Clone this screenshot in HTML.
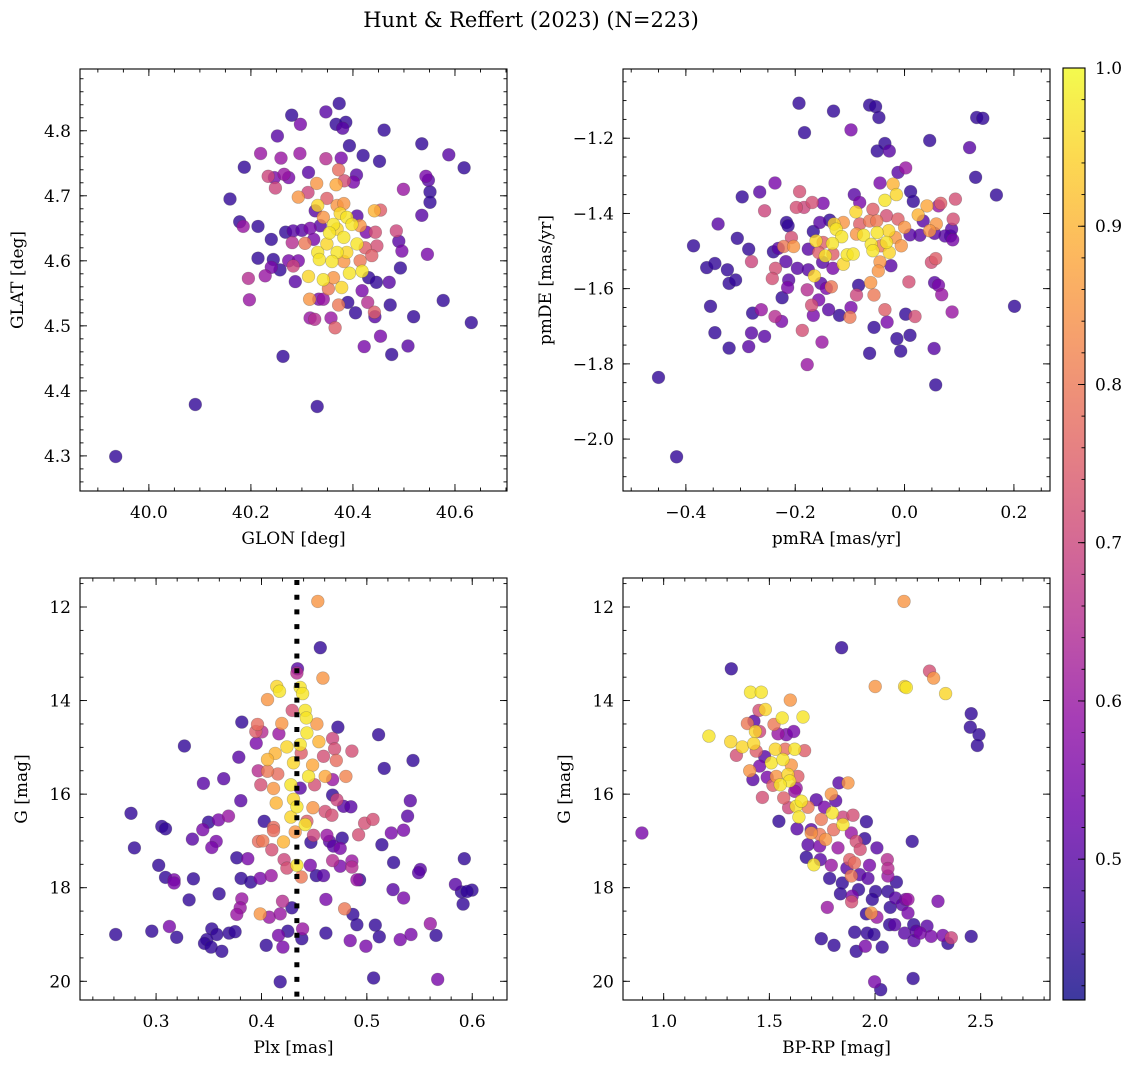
<!DOCTYPE html>
<html><head><meta charset="utf-8"><style>
body{margin:0;background:#fff;}
svg text{font-family:"DejaVu Serif","Liberation Serif",serif;fill:#000;}
</style></head><body>
<svg id="fig" width="1136" height="1068" xmlns="http://www.w3.org/2000/svg">
<text x="531" y="27" font-size="21" text-anchor="middle">Hunt &amp; Reffert (2023) (N=223)</text>
</svg>
<script>
// ---------- data ----------
const glon=[39.935,40.091,40.330,40.263,40.373,40.280,40.347,40.297,40.367,40.386,40.380,40.461,40.252,40.393,40.535,40.219,40.259,40.296,40.347,40.377,40.420,40.452,40.588,40.618,40.187,40.234,40.246,40.265,40.274,40.248,40.313,40.329,40.372,40.367,40.383,40.407,40.401,40.543,40.548,40.499,40.551,40.551,40.159,40.293,40.312,40.349,40.331,40.369,40.382,40.442,40.454,40.326,40.375,40.535,40.178,40.185,40.214,40.240,40.268,40.283,40.300,40.316,40.336,40.342,40.362,40.388,40.398,40.414,40.408,40.354,40.382,40.369,40.444,40.485,40.426,40.281,40.306,40.323,40.349,40.408,40.447,40.490,40.496,40.546,40.331,40.369,40.388,40.424,40.437,40.214,40.244,40.274,40.293,40.334,40.359,40.382,40.414,40.493,40.240,40.257,40.283,40.228,40.195,40.313,40.342,40.362,40.393,40.418,40.431,40.446,40.471,40.287,40.352,40.378,40.418,40.197,40.315,40.333,40.342,40.390,40.372,40.429,40.577,40.473,40.405,40.442,40.443,40.316,40.325,40.357,40.365,40.519,40.632,40.454,40.422,40.508,40.476];
const glat=[4.299,4.379,4.376,4.453,4.842,4.824,4.829,4.810,4.810,4.813,4.804,4.801,4.792,4.777,4.780,4.765,4.758,4.765,4.757,4.758,4.762,4.753,4.763,4.743,4.744,4.730,4.728,4.733,4.728,4.712,4.736,4.719,4.740,4.717,4.723,4.732,4.721,4.730,4.724,4.710,4.706,4.690,4.695,4.698,4.705,4.696,4.685,4.685,4.688,4.677,4.678,4.677,4.673,4.670,4.660,4.653,4.653,4.633,4.644,4.646,4.647,4.650,4.654,4.667,4.656,4.667,4.656,4.654,4.669,4.643,4.636,4.649,4.644,4.646,4.644,4.628,4.627,4.633,4.626,4.626,4.623,4.630,4.615,4.610,4.613,4.613,4.613,4.620,4.608,4.604,4.602,4.600,4.600,4.602,4.599,4.599,4.600,4.589,4.590,4.586,4.592,4.577,4.573,4.576,4.571,4.574,4.581,4.584,4.574,4.567,4.567,4.568,4.557,4.559,4.554,4.540,4.541,4.541,4.541,4.536,4.532,4.536,4.539,4.532,4.520,4.521,4.514,4.512,4.510,4.512,4.497,4.514,4.505,4.484,4.468,4.469,4.456];
const prob1=[.45,.45,.45,.45,.45,.45,.5,.55,.45,.45,.5,.45,.5,.45,.45,.6,.6,.6,.65,.55,.45,.45,.5,.45,.45,.7,.55,.6,.55,.7,.5,.85,.78,.88,.72,.5,.55,.55,.5,.6,.45,.45,.45,.85,.7,.75,.95,.85,.85,.9,.75,.5,.95,.5,.45,.6,.45,.45,.45,.5,.5,.55,.5,.85,.97,.97,.97,.85,.5,.97,.97,.95,.72,.7,.55,.65,.8,.55,.95,.97,.72,.5,.55,.55,.97,.97,.95,.75,.75,.45,.45,.55,.55,.97,.97,.85,.8,.45,.55,.45,.7,.6,.65,.95,.97,.85,.97,.97,.45,.45,.5,.5,.8,.95,.55,.6,.85,.55,.6,.45,.8,.65,.45,.45,.45,.75,.5,.6,.65,.6,.75,.45,.45,.55,.55,.5,.45];

const pmra=[-0.450,-0.417,-0.193,-0.130,-0.064,-0.053,-0.047,-0.183,-0.098,-0.036,-0.050,-0.028,0.046,0.119,0.132,0.143,0.130,0.168,-0.012,0.002,-0.045,-0.021,-0.015,-0.036,0.011,0.016,-0.297,-0.265,-0.237,-0.256,-0.192,-0.198,-0.184,-0.169,-0.149,-0.092,-0.082,-0.089,-0.058,0.041,0.066,0.093,0.062,0.025,0.034,0.089,-0.216,-0.213,-0.155,-0.137,-0.129,-0.112,-0.125,-0.082,-0.064,-0.051,-0.033,-0.012,0.000,0.058,0.086,0.084,0.074,0.055,0.046,0.028,0.010,0.088,-0.088,-0.075,-0.050,-0.029,-0.017,-0.006,-0.033,-0.061,-0.115,-0.132,-0.162,-0.167,-0.149,-0.207,-0.221,-0.203,-0.306,-0.386,-0.341,-0.285,-0.240,-0.231,-0.176,-0.157,-0.145,-0.131,-0.105,-0.094,-0.058,-0.043,-0.028,-0.150,-0.112,-0.045,-0.217,-0.280,-0.362,-0.347,-0.324,-0.236,-0.196,-0.176,-0.131,-0.048,-0.025,0.049,0.057,-0.165,-0.242,-0.212,-0.321,-0.309,-0.214,-0.153,-0.143,-0.134,-0.062,0.008,0.055,0.062,-0.224,-0.178,-0.084,-0.088,-0.056,0.068,-0.355,-0.157,-0.170,-0.139,-0.098,0.201,-0.278,-0.262,-0.237,-0.225,-0.167,-0.119,-0.100,-0.036,0.002,0.019,0.087,-0.056,-0.032,-0.187,-0.347,-0.280,-0.256,-0.321,-0.285,-0.151,-0.014,0.010,-0.007,-0.064,0.054,-0.178,0.057];
const pmde=[-1.836,-2.047,-1.107,-1.128,-1.112,-1.116,-1.145,-1.185,-1.178,-1.214,-1.234,-1.234,-1.206,-1.225,-1.145,-1.147,-1.304,-1.351,-1.291,-1.279,-1.319,-1.322,-1.350,-1.365,-1.342,-1.368,-1.356,-1.343,-1.319,-1.393,-1.342,-1.384,-1.384,-1.371,-1.373,-1.350,-1.371,-1.396,-1.389,-1.380,-1.373,-1.362,-1.380,-1.404,-1.420,-1.415,-1.424,-1.433,-1.424,-1.418,-1.428,-1.424,-1.442,-1.428,-1.420,-1.420,-1.406,-1.415,-1.437,-1.428,-1.442,-1.460,-1.460,-1.453,-1.446,-1.458,-1.457,-1.470,-1.455,-1.458,-1.451,-1.446,-1.464,-1.486,-1.477,-1.482,-1.462,-1.480,-1.473,-1.448,-1.477,-1.464,-1.488,-1.488,-1.466,-1.486,-1.428,-1.495,-1.502,-1.493,-1.495,-1.504,-1.513,-1.508,-1.510,-1.508,-1.499,-1.486,-1.504,-1.530,-1.535,-1.529,-1.528,-1.528,-1.544,-1.533,-1.550,-1.546,-1.546,-1.550,-1.546,-1.553,-1.539,-1.530,-1.520,-1.566,-1.573,-1.577,-1.586,-1.577,-1.597,-1.586,-1.599,-1.595,-1.584,-1.582,-1.584,-1.591,-1.624,-1.603,-1.591,-1.617,-1.617,-1.616,-1.647,-1.630,-1.644,-1.656,-1.650,-1.647,-1.665,-1.656,-1.674,-1.687,-1.671,-1.671,-1.676,-1.656,-1.668,-1.674,-1.662,-1.703,-1.689,-1.711,-1.717,-1.718,-1.727,-1.758,-1.754,-1.742,-1.733,-1.724,-1.766,-1.772,-1.759,-1.802,-1.856];
const prob2=[.45,.45,.45,.45,.45,.45,.45,.45,.55,.45,.45,.5,.45,.5,.45,.45,.45,.45,.5,.6,.55,.9,.95,.97,.45,.45,.45,.5,.55,.7,.72,.72,.7,.72,.55,.5,.55,.95,.75,.88,.75,.72,.6,.9,.5,.72,.45,.45,.5,.45,.95,.85,.97,.75,.8,.8,.72,.75,.85,.85,.5,.45,.5,.5,.85,.5,.5,.55,.85,.97,.97,.95,.85,.85,.97,.97,.97,.97,.95,.45,.75,.72,.8,.85,.45,.45,.5,.45,.45,.5,.5,.75,.97,.75,.97,.97,.97,.8,.95,.5,.95,.85,.5,.7,.45,.45,.45,.72,.5,.5,.55,.85,.5,.72,.75,.95,.72,.5,.45,.45,.55,.5,.55,.8,.85,.72,.5,.55,.45,.65,.45,.7,.8,.6,.45,.55,.72,.5,.55,.45,.45,.6,.65,.55,.55,.45,.8,.75,.45,.72,.6,.45,.55,.72,.45,.5,.5,.45,.5,.6,.45,.45,.45,.45,.5,.6,.45];

const plx=[0.4535,0.4558,0.4342,0.4336,0.4583,0.4146,0.4171,0.4368,0.4390,0.4057,0.4292,0.4415,0.4425,0.3813,0.3962,0.4193,0.4526,0.4725,0.3946,0.4004,0.4165,0.4431,0.5112,0.4675,0.4545,0.3269,0.3950,0.4130,0.4241,0.4368,0.4694,0.4858,0.3785,0.4057,0.4377,0.4589,0.4710,0.5438,0.4304,0.4485,0.5165,0.3969,0.4057,0.4155,0.4447,0.4605,0.4675,0.4801,0.3449,0.3642,0.3994,0.4114,0.4279,0.4368,0.4504,0.3804,0.4675,0.4716,0.4779,0.4849,0.5412,0.4140,0.4304,0.4336,0.4488,0.4605,0.2762,0.3687,0.3592,0.3497,0.4026,0.4279,0.4415,0.4431,0.4668,0.4979,0.5058,0.5387,0.3054,0.3089,0.3443,0.4114,0.4114,0.4320,0.4494,0.4621,0.4922,0.5232,0.5349,0.3345,0.3570,0.3972,0.4013,0.4209,0.4469,0.4646,0.4766,0.2794,0.3529,0.4098,0.4684,0.4747,0.5143,0.3766,0.3870,0.4215,0.4336,0.4463,0.4675,0.4858,0.5254,0.5925,0.3025,0.4241,0.4747,0.4858,0.5507,0.5491,0.3089,0.3171,0.3171,0.3354,0.3807,0.3899,0.3988,0.4092,0.4377,0.4520,0.4589,0.4931,0.4906,0.5840,0.5897,0.5998,0.5951,0.5913,0.3598,0.5248,0.5349,0.3313,0.3813,0.3798,0.3766,0.4200,0.4289,0.4611,0.4789,0.3988,0.4073,0.4178,0.4868,0.4906,0.5080,0.5602,0.2617,0.2959,0.3126,0.3196,0.3529,0.3576,0.3481,0.3459,0.3522,0.3624,0.3693,0.3750,0.4162,0.4250,0.4390,0.4383,0.4611,0.4045,0.4203,0.4842,0.4991,0.5118,0.5317,0.5419,0.5656,0.4178,0.5064,0.5672,0.3560];
const gmag3=[11.88,12.87,13.32,13.41,13.52,13.70,13.80,13.72,13.85,13.98,14.21,14.21,14.37,14.46,14.51,14.49,14.50,14.57,14.66,14.67,14.71,14.69,14.73,14.81,14.88,14.97,14.91,15.13,14.99,14.94,15.03,15.08,15.21,15.26,15.12,15.19,15.28,15.28,15.33,15.38,15.45,15.50,15.51,15.57,15.62,15.62,15.69,15.62,15.77,15.67,15.80,15.88,15.80,15.87,15.80,16.14,16.02,16.12,16.26,16.27,16.14,16.19,16.11,16.27,16.29,16.37,16.41,16.47,16.55,16.60,16.58,16.49,16.65,16.58,16.45,16.62,16.54,16.47,16.69,16.74,16.76,16.71,16.78,16.81,16.88,16.88,16.87,16.83,16.77,16.96,17.01,17.01,17.00,17.02,17.03,17.01,16.94,17.15,17.14,17.19,17.11,17.16,17.08,17.36,17.38,17.40,17.52,17.52,17.42,17.43,17.46,17.38,17.52,17.58,17.54,17.56,17.61,17.68,17.78,17.83,17.90,17.81,17.80,17.88,17.80,17.74,17.77,17.74,17.74,17.83,17.83,17.93,18.09,18.05,18.08,18.35,18.13,18.04,18.22,18.26,18.24,18.43,18.57,18.29,18.43,18.25,18.45,18.56,18.63,18.56,18.57,18.79,18.80,18.77,19.00,18.93,18.83,19.06,18.88,19.00,19.11,19.19,19.27,19.36,18.97,18.94,19.02,18.93,18.88,19.09,18.97,19.23,19.27,19.13,19.25,19.05,19.11,19.00,19.02,20.01,19.93,19.96,20.16];
const prob3=[.85,.45,.5,.65,.85,.95,.97,.97,.97,.85,.72,.97,.97,.45,.78,.85,.85,.45,.75,.65,.6,.97,.45,.7,.9,.45,.55,.9,.95,.97,.72,.72,.5,.9,.75,.72,.78,.45,.95,.88,.45,.65,.8,.78,.97,.88,.6,.82,.5,.5,.72,.85,.97,.5,.72,.5,.45,.7,.5,.5,.5,.9,.95,.97,.85,.72,.45,.6,.55,.45,.45,.95,.97,.75,.72,.72,.72,.5,.45,.45,.55,.78,.78,.85,.7,.6,.72,.55,.55,.5,.55,.78,.8,.9,.45,.5,.45,.45,.55,.72,.5,.55,.45,.45,.55,.7,.97,.55,.65,.6,.45,.45,.45,.72,.55,.65,.5,.5,.45,.55,.55,.45,.45,.45,.55,.6,.8,.45,.5,.45,.6,.5,.45,.45,.45,.45,.45,.5,.55,.45,.6,.6,.6,.65,.45,.55,.8,.85,.6,.6,.45,.45,.45,.6,.45,.45,.55,.45,.45,.45,.45,.45,.45,.45,.45,.45,.55,.45,.6,.45,.45,.45,.55,.55,.55,.45,.55,.55,.45,.45,.45,.55];

const bprp=[2.137,1.842,1.320,2.258,2.277,2.001,2.140,2.148,2.334,1.411,1.462,1.599,1.481,1.451,2.455,1.561,1.659,1.396,1.427,1.522,2.451,2.492,2.484,1.214,1.434,1.454,1.541,1.580,1.615,1.317,1.372,1.426,1.438,1.344,1.528,1.575,1.620,1.667,1.478,1.509,1.564,1.604,1.454,1.407,1.422,1.490,1.533,1.588,1.635,1.596,1.517,1.552,1.627,1.829,1.872,1.467,1.568,1.620,1.722,1.793,1.814,1.591,1.627,1.651,1.683,1.761,1.640,1.545,1.746,1.798,1.848,1.896,1.959,1.848,1.631,1.698,1.698,1.738,1.766,1.804,1.888,1.951,1.911,1.683,1.738,1.825,1.930,2.009,2.176,1.675,1.741,1.711,1.793,1.880,1.903,1.974,2.058,2.061,1.867,1.785,1.888,1.927,1.967,2.061,2.101,1.845,1.922,2.003,2.061,1.836,1.892,1.889,1.987,2.097,2.145,2.156,2.298,1.774,1.959,1.982,2.009,2.072,2.129,2.156,2.069,2.093,2.183,2.246,2.140,2.195,2.214,2.266,2.321,2.361,2.345,2.455,2.184,1.904,1.963,1.995,1.746,1.806,1.911,1.954,2.034,0.897,1.998,2.027,2.180,2.735];
const gmag4=[11.88,12.87,13.32,13.37,13.52,13.70,13.70,13.72,13.85,13.82,13.82,13.99,14.19,14.21,14.28,14.37,14.35,14.49,14.44,14.51,14.57,14.73,14.96,14.76,14.66,14.66,14.71,14.73,14.66,14.88,14.99,14.92,15.08,15.17,15.04,15.04,15.04,15.07,15.20,15.33,15.26,15.38,15.40,15.50,15.69,15.64,15.62,15.58,15.62,15.72,15.81,15.80,15.87,15.76,15.76,16.07,16.08,15.94,16.12,16.00,16.14,16.29,16.26,16.15,16.28,16.28,16.49,16.58,16.54,16.40,16.49,16.45,16.59,16.65,16.74,16.76,16.83,16.86,16.97,16.76,16.83,16.95,17.01,17.08,17.11,17.15,17.18,17.15,17.01,17.35,17.40,17.51,17.52,17.40,17.47,17.52,17.40,17.59,17.58,17.80,17.75,17.72,17.80,17.75,17.88,17.90,18.04,18.08,18.08,18.13,18.18,18.30,18.25,18.22,18.25,18.25,18.29,18.42,18.56,18.54,18.63,18.42,18.36,18.54,18.79,18.79,18.79,18.82,18.97,18.93,18.97,19.04,19.02,19.07,19.19,19.04,19.13,18.95,18.97,19.00,19.09,19.23,19.36,19.25,19.27,16.83,20.01,20.18,19.94,19.96];
const prob4=[.85,.45,.45,.72,.85,.85,.95,.97,.95,.97,.97,.85,.95,.72,.45,.97,.97,.8,.5,.8,.45,.45,.45,.97,.95,.7,.6,.55,.55,.95,.95,.95,.75,.72,.95,.78,.97,.75,.5,.97,.97,.85,.55,.85,.5,.55,.85,.95,.75,.97,.75,.97,.6,.5,.85,.72,.75,.6,.5,.85,.5,.7,.97,.97,.8,.55,.97,.45,.8,.97,.7,.72,.45,.97,.5,.5,.85,.8,.85,.78,.6,.45,.72,.5,.55,.6,.72,.5,.45,.45,.5,.97,.6,.75,.78,.55,.65,.65,.5,.45,.8,.5,.5,.6,.45,.45,.45,.45,.45,.45,.55,.72,.45,.5,.55,.6,.55,.6,.45,.85,.6,.45,.5,.55,.45,.5,.45,.5,.5,.5,.55,.55,.55,.7,.45,.45,.5,.45,.45,.45,.45,.45,.45,.55,.45,.55,.55,.45,.45];

const plxRef=[0.4336];
const cbTicks=[0.5,0.6,0.7,0.8,0.9,1.0];
const vmin=0.411, vmax=1.0;

// ---------- drawing ----------
const NS='http://www.w3.org/2000/svg';
const svg=document.getElementById('fig');
function mk(tag,attrs,parent){const e=document.createElementNS(NS,tag);for(const k in attrs)e.setAttribute(k,attrs[k]);(parent||svg).appendChild(e);return e;}
const plasma=[[13,8,135],[65,4,157],[106,0,168],[143,13,164],[177,42,144],[204,71,120],[225,100,98],[242,132,75],[252,166,54],[252,206,37],[240,249,33]];
function cmap(v){let t=(v-vmin)/(vmax-vmin);t=Math.max(0,Math.min(1,t))*10;const i=Math.min(9,Math.floor(t)),f=t-i;const a=plasma[i],b=plasma[i+1];return 'rgb('+a.map((c,k)=>Math.round(c+(b[k]-c)*f)).join(',')+')';}

const TF=17;
function panel(cfg){
  const {x0,x1,y0,y1,xmin,xmax,ymin,ymax,invertY,xs,ys,ps,xMaj,xMin,yMaj,yMin,xfmt,yfmt,xlabel,ylabel,name,ylabX}=cfg;
  const sx=v=>x0+(v-xmin)/(xmax-xmin)*(x1-x0);
  const sy=v=>invertY? y0+(v-ymin)/(ymax-ymin)*(y1-y0) : y1-(v-ymin)/(ymax-ymin)*(y1-y0);
  const g=mk('g',{});
  
  
  const clipId=name+'-clip';
  const cp=mk('clipPath',{id:clipId},g);mk('rect',{x:x0,y:y0,width:x1-x0,height:y1-y0},cp);
  const pts=mk('g',{'clip-path':'url(#'+clipId+')'},g);
  const idx=ps.map((p,i)=>i).sort((a,b)=>ps[a]-ps[b]);
  for(const i of idx){
    const c=mk('circle',{cx:sx(xs[i]).toFixed(1),cy:sy(ys[i]).toFixed(1),r:6.4,fill:cmap(ps[i]),'fill-opacity':0.8,stroke:'rgba(70,70,70,0.35)','stroke-width':0.6},pts);
    
    
  }
  if(cfg.extra)cfg.extra(g,sx,sy);
  const frame=mk('rect',{x:x0,y:y0,width:x1-x0,height:y1-y0,fill:'none',stroke:'#000','stroke-width':1.1},g);
  
  
  const tk=mk('g',{stroke:'#000','stroke-width':0.9},g);
  const eps=1e-9;
  for(let v=Math.ceil(xmin/xMin-eps)*xMin;v<=xmax+eps;v+=xMin){const x=sx(v);mk('line',{x1:x,x2:x,y1:y1,y2:y1-3.5},tk);mk('line',{x1:x,x2:x,y1:y0,y2:y0+3.5},tk);}
  for(let v=Math.ceil(ymin/yMin-eps)*yMin;v<=ymax+eps;v+=yMin){const y=sy(v);mk('line',{x1:x0,x2:x0+3.5,y1:y,y2:y},tk);mk('line',{x1:x1,x2:x1-3.5,y1:y,y2:y},tk);}
  for(const v of xMaj){const x=sx(v);mk('line',{x1:x,x2:x,y1:y1,y2:y1-7},tk);mk('line',{x1:x,x2:x,y1:y0,y2:y0+7},tk);
    const t=mk('text',{x:x,y:y1+27,'font-size':TF,'text-anchor':'middle'},g);t.textContent=xfmt(v);
    
    }
  for(const v of yMaj){const y=sy(v);mk('line',{x1:x0,x2:x0+7,y1:y,y2:y},tk);mk('line',{x1:x1,x2:x1-7,y1:y,y2:y},tk);
    const t=mk('text',{x:x0-9,y:y+6,'font-size':TF,'text-anchor':'end'},g);t.textContent=yfmt(v);
    
    }
  const xl=mk('text',{x:(x0+x1)/2,y:y1+53,'font-size':TF,'text-anchor':'middle'},g);xl.textContent=xlabel;
  
  
  const cy=(y0+y1)/2;
  const yl=mk('text',{x:ylabX,y:cy,'font-size':TF,'text-anchor':'middle',transform:'rotate(-90 '+ylabX+' '+cy+')'},g);yl.textContent=ylabel;
  
  
}
const m=v=>(v<0?'\u2212':'')+Math.abs(v).toFixed(1);
const f1=v=>v.toFixed(1), f0=v=>v.toFixed(0);

panel({name:'glon-glat-panel',x0:80,x1:507,y0:69,y1:491,xmin:39.865,xmax:40.702,ymin:4.246,ymax:4.895,xs:glon,ys:glat,ps:prob1,
 xMaj:[40.0,40.2,40.4,40.6],xMin:0.05,yMaj:[4.3,4.4,4.5,4.6,4.7,4.8],yMin:0.02,xfmt:f1,yfmt:f1,xlabel:'GLON [deg]',ylabel:'GLAT [deg]',ylabX:23});
panel({name:'pm-panel',x0:623,x1:1050,y0:69,y1:491,xmin:-0.515,xmax:0.266,ymin:-2.138,ymax:-1.016,xs:pmra,ys:pmde,ps:prob2,
 xMaj:[-0.4,-0.2,0.0,0.2],xMin:0.05,yMaj:[-2.0,-1.8,-1.6,-1.4,-1.2],yMin:0.05,xfmt:m,yfmt:m,xlabel:'pmRA [mas/yr]',ylabel:'pmDE [mas/yr]',ylabX:551});
panel({name:'plx-g-panel',x0:80,x1:507,y0:578,y1:1000,xmin:0.2278,xmax:0.633,ymin:11.38,ymax:20.40,invertY:true,xs:plx,ys:gmag3,ps:prob3,
 xMaj:[0.3,0.4,0.5,0.6],xMin:0.02,yMaj:[12,14,16,18,20],yMin:0.5,xfmt:f1,yfmt:f0,xlabel:'Plx [mas]',ylabel:'G [mag]',ylabX:27,
 extra:(g,sx,sy)=>{const x=sx(plxRef[0]);const l=mk('line',{x1:x,x2:x,y1:580,y2:1000,stroke:'#000','stroke-width':5,'stroke-dasharray':'5 9.7'},g);
  
  }});
panel({name:'cmd-panel',x0:623,x1:1050,y0:578,y1:1000,xmin:0.8075,xmax:2.828,ymin:11.38,ymax:20.40,invertY:true,xs:bprp,ys:gmag4,ps:prob4,
 xMaj:[1.0,1.5,2.0,2.5],xMin:0.1,yMaj:[12,14,16,18,20],yMin:0.5,xfmt:f1,yfmt:f0,xlabel:'BP-RP [mag]',ylabel:'G [mag]',ylabX:570});

// colorbar
const cb=mk('g',{});


const defs=mk('defs',{},cb);const lg=mk('linearGradient',{id:'cbg',x1:0,y1:1,x2:0,y2:0},defs);
for(let i=0;i<=10;i++)mk('stop',{offset:(i/10),'stop-color':cmap(vmin+(vmax-vmin)*i/10)},lg);
const cbx0=1063,cbx1=1085,cby0=68,cby1=1000;
mk('rect',{x:cbx0,y:cby0,width:cbx1-cbx0,height:cby1-cby0,fill:'url(#cbg)','fill-opacity':0.8},cb);
mk('rect',{x:cbx0,y:cby0,width:cbx1-cbx0,height:cby1-cby0,fill:'none',stroke:'#000','stroke-width':1.1},cb);
const cys=v=>cby1-(v-vmin)/(vmax-vmin)*(cby1-cby0);
for(let v=0.42;v<=1.0001;v+=0.02){mk('line',{x1:cbx1,x2:cbx1-3.5,y1:cys(v),y2:cys(v),stroke:'#000','stroke-width':0.9},cb);}
for(const v of cbTicks){const y=cys(v);mk('line',{x1:cbx1,x2:cbx1-7,y1:y,y2:y,stroke:'#000','stroke-width':0.9},cb);
 const t=mk('text',{x:1095,y:y+6,'font-size':TF},cb);t.textContent=v.toFixed(1);
 
 }
</script>
</body></html>
